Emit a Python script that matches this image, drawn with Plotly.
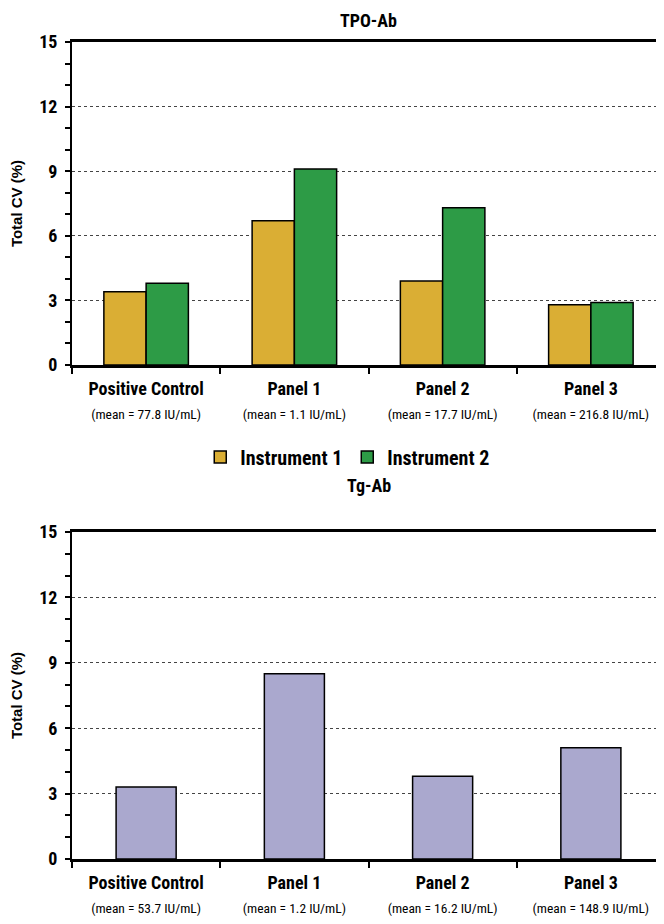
import plotly.graph_objects as go

categories = ["Positive Control", "Panel 1", "Panel 2", "Panel 3"]
tpo_means = ["77.8", "1.1", "17.7", "216.8"]
tg_means = ["53.7", "1.2", "16.2", "148.9"]
tpo_instrument1 = [3.4, 6.7, 3.9, 2.8]
tpo_instrument2 = [3.8, 9.1, 7.3, 2.9]
tg_values = [3.3, 8.5, 3.8, 5.1]
series_names = ["Instrument 1", "Instrument 2"]
y_ticks = [0, 3, 6, 9, 12, 15]

FONT = "Roboto Condensed, Liberation Sans Narrow, Arial Narrow, Liberation Sans, sans-serif"
WIDE = "Liberation Sans, Arial, sans-serif"
GOLD = "#DAAE34"
GREEN = "#2D9B46"
LAV = "#AAA8CE"


def labels(means):
    return [f"<b>{c}</b><br><span style='font-size:13.5px'>(mean = {m} IU/mL)</span>"
            for c, m in zip(categories, means)]


tpo_labels = labels(tpo_means)
tg_labels = labels(tg_means)

fig = go.Figure()
fig.add_trace(go.Bar(x=tpo_labels, y=tpo_instrument1, name="<b>" + series_names[0] + "</b>",
                     marker=dict(color=GOLD, line=dict(color="black", width=1.5)),
                     xaxis="x", yaxis="y"))
fig.add_trace(go.Bar(x=tpo_labels, y=tpo_instrument2, name="<b>" + series_names[1] + "</b>",
                     marker=dict(color=GREEN, line=dict(color="black", width=1.5)),
                     xaxis="x", yaxis="y"))
fig.add_trace(go.Bar(x=tg_labels, y=tg_values, name="Tg-Ab", showlegend=False,
                     marker=dict(color=LAV, line=dict(color="black", width=1.5)),
                     xaxis="x2", yaxis="y2", width=0.405))

H = 924.0
top_dom = [1 - 357 / H, 1 - 34 / H]
bot_dom = [1 - 851 / H, 1 - 524 / H]

xcommon = dict(showline=True, linecolor="black", linewidth=2.5, mirror=True,
               ticks="outside", ticklen=6, tickwidth=1.5, tickcolor="black",
               tickson="boundaries", showgrid=False, automargin=False,
               ticklabelstandoff=6,
               tickfont=dict(family=FONT, size=18, color="black"))
ycommon = dict(range=[0, 15], tickvals=y_ticks, showline=True, linecolor="black",
               linewidth=2, ticks="outside", ticklen=5, tickwidth=1.5, tickcolor="black",
               minor=dict(dtick=1, ticks="outside", ticklen=5, tickwidth=1.5,
                          tickcolor="black", showgrid=False),
               showgrid=True, gridcolor="#444444", griddash="dot", gridwidth=1,
               zeroline=False, automargin=False, ticklabelstandoff=4,
               tickfont=dict(family=FONT, size=18, color="black", weight="bold"),
               title=dict(text="<b>Total CV (%)</b>", font=dict(family=WIDE, size=15, color="black"),
                          standoff=26))

fig.update_layout(
    width=664, height=924,
    margin=dict(l=64, r=7, t=0, b=0),
    paper_bgcolor="white", plot_bgcolor="white",
    barmode="group", bargap=0.43, bargroupgap=0,
    xaxis=dict(domain=[0, 1], anchor="y", **xcommon),
    yaxis=dict(domain=top_dom, anchor="x", **ycommon),
    xaxis2=dict(domain=[0, 1], anchor="y2", **xcommon),
    yaxis2=dict(domain=bot_dom, anchor="x2", **ycommon),
    showlegend=True,
    legend=dict(orientation="h", x=0.465, xanchor="center", y=1 - 449 / H, yanchor="middle",
                font=dict(family=FONT, size=20, color="black"), itemwidth=30,
                traceorder="normal"),
    font=dict(family=FONT, color="black"),
    annotations=[
        dict(text="<b>TPO-Ab</b>", x=0.5, y=1.0, xref="paper", yref="paper",
             showarrow=False, font=dict(family=FONT, size=18, color="black"),
             xanchor="center", yanchor="top"),
        dict(text="<b>Tg-Ab</b>", x=0.5, y=1 - 478 / H, xref="paper", yref="paper",
             showarrow=False, font=dict(family=FONT, size=18, color="black"),
             xanchor="center", yanchor="middle"),
    ],
)

fig.write_html("out.html")
